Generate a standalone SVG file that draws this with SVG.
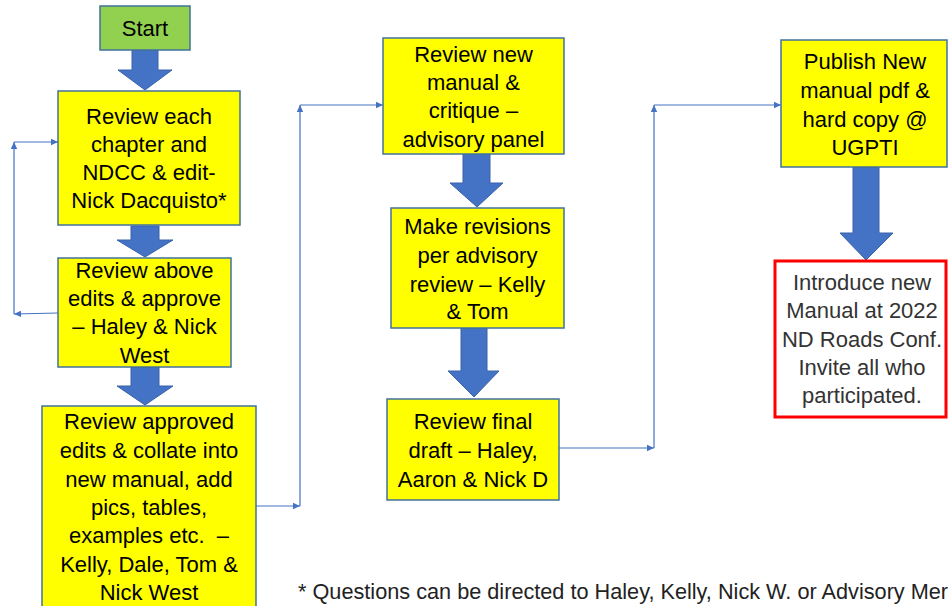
<svg xmlns="http://www.w3.org/2000/svg" width="948" height="606" viewBox="0 0 948 606">
<style>
.box{fill:#FFFF00;stroke:#41719C;stroke-width:1.5}
.start{fill:#92D050;stroke:#41719C;stroke-width:1.5}
.red{fill:#FFFFFF;stroke:#FF0000;stroke-width:3}
.blk{fill:#4472C4;stroke:#3A62A8;stroke-width:1}
.lbl{font-family:"Liberation Sans",Arial,sans-serif;font-size:22px;fill:#000;text-anchor:middle}
.gray{fill:#333}
.con{fill:none;stroke:#4472C4;stroke-width:1.2}
.note{font-family:"Liberation Sans",Arial,sans-serif;font-size:21.7px;fill:#222}
</style>
<defs>
<marker id="ah" markerWidth="8" markerHeight="8" refX="7" refY="4" orient="auto" markerUnits="userSpaceOnUse">
<path d="M0,0.8 L7,4 L0,7.2 Z" fill="#4472C4"/>
</marker>
</defs>
<rect width="948" height="606" fill="#FFFFFF"/>

<g id="connectors">
<path class="blk" d="M132,50 H158 V70 H172 L145,90 L118,70 H132 Z"/>
<path class="blk" d="M131,226 H159 V240 H173 L145,257 L117,240 H131 Z"/>
<path class="blk" d="M131,367 H159 V386 H173 L145,405 L117,386 H131 Z"/>
<path class="blk" d="M463,154 H490 V183 H503 L477,207 L450,183 H463 Z"/>
<path class="blk" d="M461,328 H487 V371 H499 L474,397 L448,371 H461 Z"/>
<path class="blk" d="M853,167 H879 V233 H893 L866,260 L840,233 H853 Z"/>
<line class="con" x1="58" y1="313" x2="14" y2="314" marker-end="url(#ah)"/>
<line class="con" x1="14" y1="314" x2="14" y2="142" marker-end="url(#ah)"/>
<line class="con" x1="14" y1="142" x2="58" y2="142" marker-end="url(#ah)"/>
<line class="con" x1="256" y1="506" x2="300" y2="506" marker-end="url(#ah)"/>
<line class="con" x1="300" y1="506" x2="300" y2="105" marker-end="url(#ah)"/>
<line class="con" x1="300" y1="105" x2="383" y2="105" marker-end="url(#ah)"/>
<line class="con" x1="559" y1="448" x2="654" y2="448" marker-end="url(#ah)"/>
<line class="con" x1="654" y1="448" x2="654" y2="105" marker-end="url(#ah)"/>
<line class="con" x1="654" y1="105" x2="781" y2="105" marker-end="url(#ah)"/>
</g>

<g id="start">
<rect class="start" x="100" y="6" width="90" height="44"/>
<text class="lbl" x="145" y="36">Start</text>
</g>

<g id="review-chapters">
<rect class="box" x="58" y="91" width="182" height="134"/>
<text class="lbl" x="149" y="124">Review each</text>
<text class="lbl" x="149" y="152">chapter and</text>
<text class="lbl" x="149" y="180">NDCC &amp; edit-</text>
<text class="lbl" x="149" y="208">Nick Dacquisto*</text>
</g>

<g id="review-above">
<rect class="box" x="58" y="258" width="173" height="109"/>
<text class="lbl" x="144.5" y="278">Review above</text>
<text class="lbl" x="144.5" y="306">edits &amp; approve</text>
<text class="lbl" x="144.5" y="334">– Haley &amp; Nick</text>
<text class="lbl" x="144.5" y="363">West</text>
</g>

<g id="review-approved">
<rect class="box" x="42" y="406" width="214" height="210"/>
<text class="lbl" x="149" y="429">Review approved</text>
<text class="lbl" x="149" y="458">edits &amp; collate into</text>
<text class="lbl" x="149" y="487">new manual, add</text>
<text class="lbl" x="149" y="515">pics, tables,</text>
<text class="lbl" x="149" y="543" xml:space="preserve">examples etc.  –</text>
<text class="lbl" x="149" y="572">Kelly, Dale, Tom &amp;</text>
<text class="lbl" x="149" y="600">Nick West</text>
</g>

<g id="review-new-manual">
<rect class="box" x="383" y="38" width="181" height="116"/>
<text class="lbl" x="473.5" y="62">Review new</text>
<text class="lbl" x="473.5" y="90">manual &amp;</text>
<text class="lbl" x="473.5" y="118">critique –</text>
<text class="lbl" x="473.5" y="147">advisory panel</text>
</g>

<g id="make-revisions">
<rect class="box" x="391" y="208" width="173" height="120"/>
<text class="lbl" x="477.5" y="234">Make revisions</text>
<text class="lbl" x="477.5" y="263">per advisory</text>
<text class="lbl" x="477.5" y="292">review – Kelly</text>
<text class="lbl" x="477.5" y="319">&amp; Tom</text>
</g>

<g id="review-final">
<rect class="box" x="387" y="399" width="172" height="101"/>
<text class="lbl" x="473" y="429">Review final</text>
<text class="lbl" x="473" y="458">draft – Haley,</text>
<text class="lbl" x="473" y="487">Aaron &amp; Nick D</text>
</g>

<g id="publish">
<rect class="box" x="781" y="40" width="166" height="127"/>
<text class="lbl" x="865" y="69">Publish New</text>
<text class="lbl" x="865" y="98">manual pdf &amp;</text>
<text class="lbl" x="865" y="127">hard copy @</text>
<text class="lbl" x="865" y="155">UGPTI</text>
</g>

<g id="introduce">
<rect class="red" x="775" y="261" width="171" height="156"/>
<text class="lbl gray" x="862" y="290">Introduce new</text>
<text class="lbl gray" x="862" y="318">Manual at 2022</text>
<text class="lbl gray" x="862" y="347">ND Roads Conf.</text>
<text class="lbl gray" x="862" y="375">Invite all who</text>
<text class="lbl gray" x="862" y="403">participated.</text>
</g>

<g id="footnote">
<text class="note" x="298" y="599">* Questions can be directed to Haley, Kelly, Nick W. or Advisory Mer</text>
</g>
</svg>
